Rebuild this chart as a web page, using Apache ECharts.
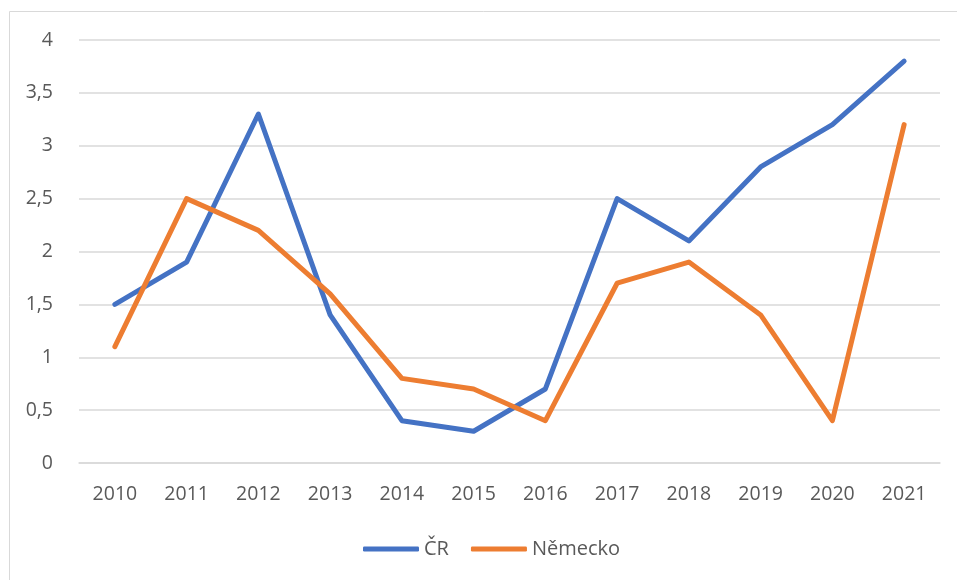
<!DOCTYPE html>
<html>
<head>
<meta charset="utf-8">
<script src="https://cdn.jsdelivr.net/npm/echarts@6/dist/echarts.min.js"></script>
<style>
  html, body { margin:0; padding:0; background:#fff; }
  #chart { width:957px; height:580px; }
</style>
</head>
<body>
<div id="chart"></div>
<script>
// data
const years = ['2010','2011','2012','2013','2014','2015','2016','2017','2018','2019','2020','2021']
const cr = [1.5, 1.9, 3.3, 1.4, 0.4, 0.3, 0.7, 2.5, 2.1, 2.8, 3.2, 3.8]
const nemecko = [1.1, 2.5, 2.2, 1.6, 0.8, 0.7, 0.4, 1.7, 1.9, 1.4, 0.4, 3.2]

const font = '"Open Sans", "Noto Sans", sans-serif'
const chart = echarts.init(document.getElementById('chart'))

chart.setOption({
  animation: false,
  textStyle: { fontFamily: font },
  graphic: [{
    type: 'rect',
    shape: { x: 9.5, y: 11.5, width: 960, height: 580 },
    style: { fill: 'none', stroke: '#d9d9d9', lineWidth: 1 }
  }],
  grid: { left: 79, right: 17, top: 40, bottom: 117 },
  legend: {
    bottom: 16,
    left: 358,
    itemWidth: 56,
    itemHeight: 5,
    itemGap: 22,
    icon: 'roundRect',
    textStyle: { color: '#595959', fontSize: 20, fontFamily: font },
    data: ['ČR', 'Německo']
  },
  xAxis: {
    type: 'category',
    data: years,
    axisLine: { lineStyle: { color: '#d9d9d9', width: 1.5 } },
    axisTick: { show: false },
    axisLabel: { color: '#595959', fontSize: 19.5, margin: 21 }
  },
  yAxis: {
    type: 'value',
    min: 0, max: 4, interval: 0.5,
    axisLine: { show: false },
    axisTick: { show: false },
    splitLine: { lineStyle: { color: '#d9d9d9', width: 1.5 } },
    axisLabel: {
      color: '#595959', fontSize: 19.5, margin: 26,
      formatter: v => String(v).replace('.', ',')
    }
  },
  series: [
    {
      name: 'ČR', type: 'line', data: cr,
      symbol: 'none',
      lineStyle: { color: '#4472C4', width: 5, cap: 'round', join: 'round' },
      itemStyle: { color: '#4472C4' }
    },
    {
      name: 'Německo', type: 'line', data: nemecko,
      symbol: 'none',
      lineStyle: { color: '#ED7D31', width: 5, cap: 'round', join: 'round' },
      itemStyle: { color: '#ED7D31' }
    }
  ]
})
</script>
</body>
</html>
